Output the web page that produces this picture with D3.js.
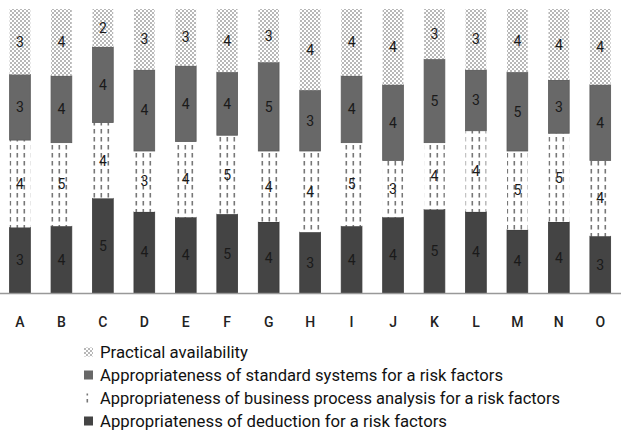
<!DOCTYPE html>
<meta charset="utf-8">
<head>
<style>
body { margin: 0; background: #fff; }
text { font-family: Roboto, "Open Sans", "DejaVu Sans", sans-serif; }
</style>
</head>
<body>
<script src="https://cdn.jsdelivr.net/npm/d3@7"></script>
<svg id="chart" width="621" height="448"></svg>
<script>

var categories = ["A","B","C","D","E","F","G","H","I","J","K","L","M","N","O"];
// bottom to top
var deduction = [3,4,5,4,4,5,4,3,4,4,5,4,4,4,3];
var business  = [4,5,4,3,4,5,4,4,5,3,4,4,5,5,4];
var standard  = [3,4,4,4,4,4,5,3,4,4,5,3,5,3,4];
var practical = [3,4,2,3,3,4,3,4,4,4,3,3,4,4,4];

var seriesKeys = ["deduction","business","standard","practical"];
var seriesNames = {
  practical: "Practical availability",
  standard: "Appropriateness of standard systems for a risk factors",
  business: "Appropriateness of business process analysis for a risk factors",
  deduction: "Appropriateness of deduction for a risk factors"
};
var legendOrder = ["practical","standard","business","deduction"];
var legendWidths = {practical: 148, standard: 403, business: 460, deduction: 347};

var data = categories.map(function(c, i) {
  return {cat: c, deduction: deduction[i], business: business[i], standard: standard[i], practical: practical[i]};
});

var svg = d3.select("#chart");
var defs = svg.append("defs");

var dots = defs.append("pattern").attr("id", "dots")
    .attr("patternUnits", "userSpaceOnUse").attr("width", 4).attr("height", 4);
dots.append("rect").attr("width", 4).attr("height", 4).attr("fill", "#fff");
dots.append("circle").attr("cx", 1).attr("cy", 1).attr("r", 0.95).attr("fill", "#999");
dots.append("circle").attr("cx", 3).attr("cy", 3).attr("r", 0.95).attr("fill", "#999");

var dashes = defs.append("pattern").attr("id", "dashes")
    .attr("patternUnits", "userSpaceOnUse").attr("width", 7).attr("height", 8);
dashes.append("rect").attr("width", 7).attr("height", 8).attr("fill", "#fff");
dashes.append("rect").attr("x", 2.5).attr("y", 1).attr("width", 1.6).attr("height", 4.5).attr("fill", "#777");

var fills = {deduction: "#444", business: "url(#dashes)", standard: "#686868", practical: "url(#dots)"};

var x = d3.scaleBand()
    .domain(categories)
    .range([-0.75, 621])
    .paddingInner(0.5)
    .paddingOuter(0.25);

var y = d3.scaleLinear().domain([0, 1]).range([293, 9]);

var stack = d3.stack().keys(seriesKeys).offset(d3.stackOffsetExpand);
var series = stack(data);

var g = svg.append("g");

series.forEach(function(s) {
  var key = s.key;
  var grp = g.append("g").attr("class", "serie");
  grp.selectAll("rect")
    .data(s)
    .enter().append("rect")
      .attr("x", function(d) { return x(d.data.cat); })
      .attr("y", function(d) { return y(d[1]); })
      .attr("height", function(d) { return y(d[0]) - y(d[1]); })
      .attr("width", x.bandwidth())
      .attr("fill", fills[key])
      .attr("stroke", key == "standard" ? "#5a5a5a" : (key == "deduction" ? "#3a3a3a" : "none"))
      .attr("stroke-width", 0.8);
  grp.selectAll("text")
    .data(s)
    .enter().append("text")
      .attr("x", function(d) { return x(d.data.cat) + x.bandwidth() / 2; })
      .attr("y", function(d) { return (y(d[0]) + y(d[1])) / 2; })
      .attr("dy", "0.36em")
      .attr("text-anchor", "middle")
      .attr("font-size", 14)
      .attr("fill", "#1a1a1a")
      .text(function(d) { return d.data[key]; });
});

// baseline
g.append("line")
    .attr("x1", 0).attr("x2", 621)
    .attr("y1", 293.5).attr("y2", 293.5)
    .attr("stroke", "#999").attr("stroke-width", 1.5);

var xAxis = g.append("g")
    .attr("transform", "translate(0,293)")
    .call(d3.axisBottom(x).tickSize(0).tickPadding(24));
xAxis.select(".domain").remove();
xAxis.selectAll("text")
    .attr("font-size", 14)
    .attr("font-family", "Roboto, sans-serif")
    .attr("font-weight", 500)
    .attr("fill", "#222");

var legend = svg.selectAll(".legend")
  .data(legendOrder)
  .enter().append("g")
    .attr("class", "legend")
    .attr("transform", function(d, i) { return "translate(84," + (352 + i * 23) + ")"; });

legend.append("rect")
    .attr("x", 0)
    .attr("y", -4.5)
    .attr("width", 9)
    .attr("height", 9)
    .attr("fill", function(d) { return fills[d]; });

legend.append("text")
    .attr("x", 16)
    .attr("dy", "0.36em")
    .attr("font-size", 16.5)
    .attr("fill", "#111")
    .attr("textLength", function(d) { return legendWidths[d]; })
    .attr("lengthAdjust", "spacingAndGlyphs")
    .text(function(d) { return seriesNames[d]; });
</script>
</body>
</html>
